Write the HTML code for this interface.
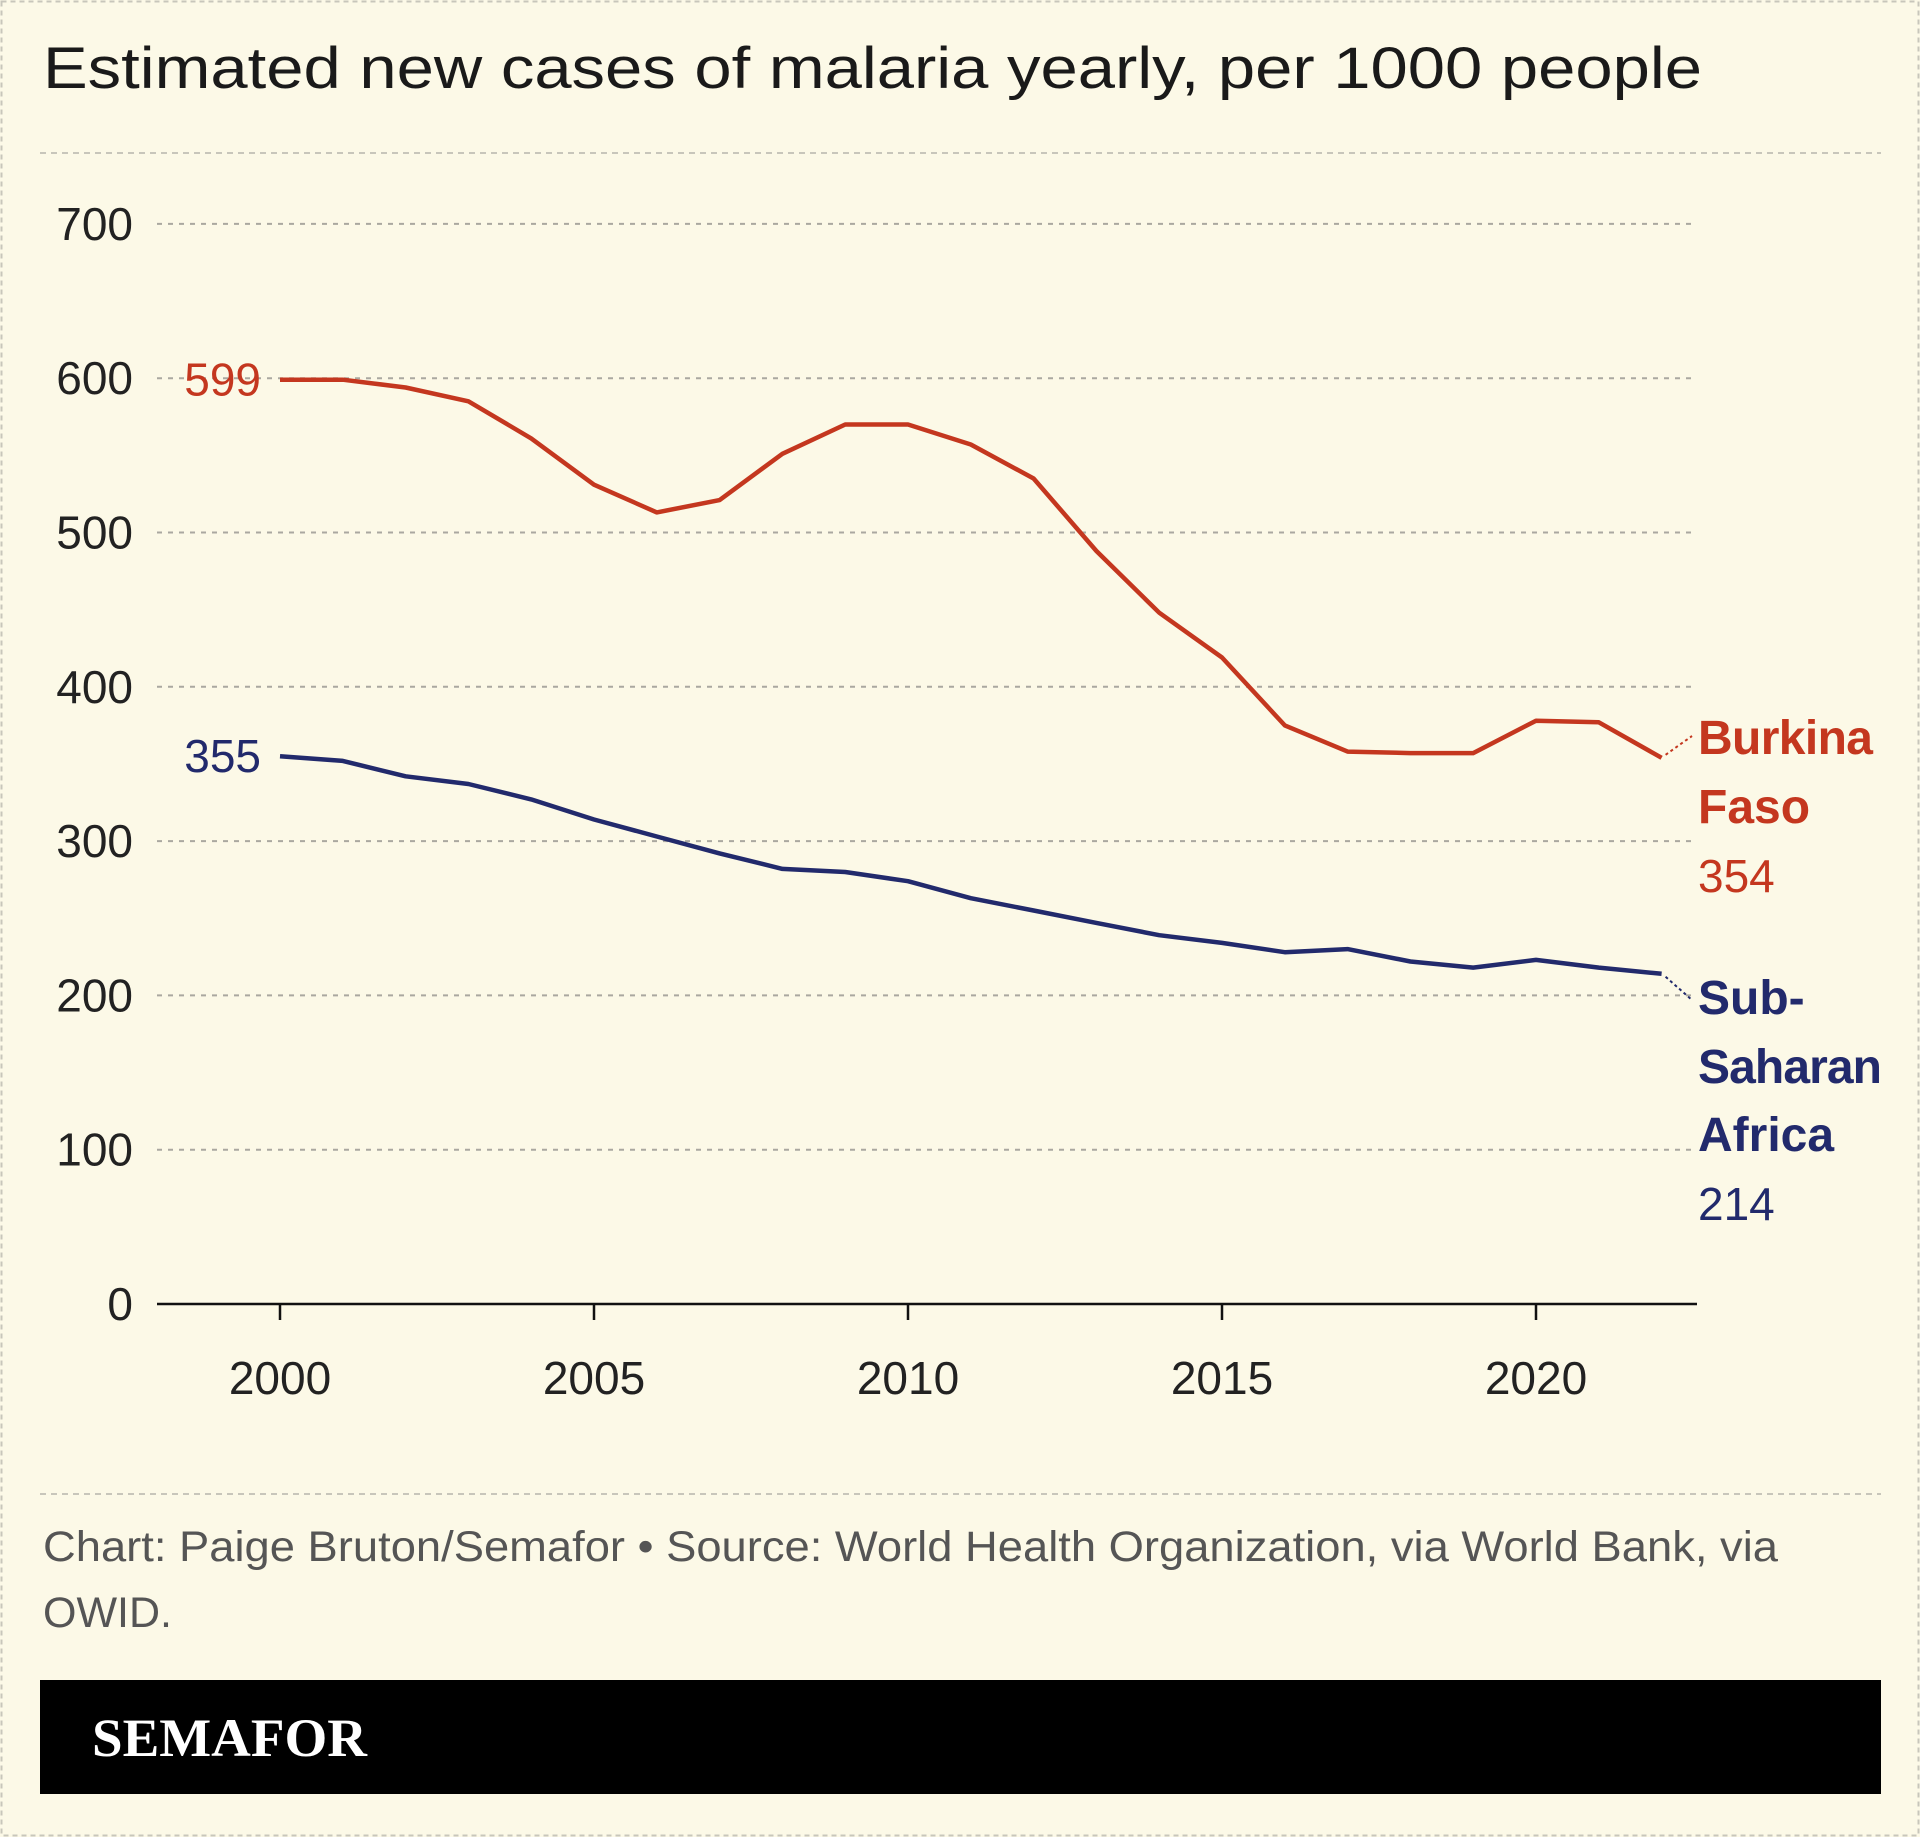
<!DOCTYPE html>
<html><head><meta charset="utf-8">
<style>
html,body{margin:0;padding:0;background:#fcf9e7;}
svg{display:block;}
text{font-family:"Liberation Sans",sans-serif;}
</style></head>
<body>
<svg id="chart" width="1920" height="1837" viewBox="0 0 1920 1837" xmlns="http://www.w3.org/2000/svg">
<rect x="1.5" y="1.5" width="1917" height="1834" fill="#fcf9e7" stroke="#c8c6bb" stroke-width="2" stroke-dasharray="5,4"/>
<text x="43" y="88" font-size="58" fill="#1a1a1a" textLength="1659" lengthAdjust="spacingAndGlyphs">Estimated new cases of malaria yearly, per 1000 people</text>
<line x1="40" y1="153" x2="1881" y2="153" stroke="#c8c6bb" stroke-width="2" stroke-dasharray="6,5"/>
<g id="grid"></g>
<g id="axes"></g>
<g id="series"></g>
<line x1="40" y1="1494" x2="1881" y2="1494" stroke="#c8c6bb" stroke-width="2" stroke-dasharray="6,5"/>
<text x="43" y="1561" font-size="43" fill="#555" textLength="1735" lengthAdjust="spacingAndGlyphs">Chart: Paige Bruton/Semafor • Source: World Health Organization, via World Bank, via</text>
<text x="43" y="1627" font-size="43" fill="#555">OWID.</text>
<rect x="40" y="1680" width="1841" height="114" fill="#000"/>
<text x="92" y="1756" font-size="54" font-weight="bold" fill="#fff" font-family="Liberation Serif, serif" style="font-family:'Liberation Serif',serif" textLength="275" lengthAdjust="spacingAndGlyphs">SEMAFOR</text>
</svg>
<script>
const years=[2000,2001,2002,2003,2004,2005,2006,2007,2008,2009,2010,2011,2012,2013,2014,2015,2016,2017,2018,2019,2020,2021,2022];
const burkina=[599,599,594,585,561,531,513,521,551,570,570,557,535,488,448,419,375,358,357,357,378,377,354];
const ssa=[355,352,342,337,327,314,303,292,282,280,274,263,255,247,239,234,228,230,222,218,223,218,214];
const yTicks=[0,100,200,300,400,500,600,700];
const xTicks=[2000,2005,2010,2015,2020];
const NS="http://www.w3.org/2000/svg";
const xs=y=>280+(y-2000)*62.8;
const ys=v=>1304-v*1.543;
function mk(tag,attrs,parent){const e=document.createElementNS(NS,tag);for(const k in attrs)e.setAttribute(k,attrs[k]);parent.appendChild(e);return e;}
const grid=document.getElementById('grid'),axes=document.getElementById('axes'),ser=document.getElementById('series');
yTicks.forEach(t=>{
  if(t>0){const l=mk('line',{x1:157,x2:1692,y1:ys(t),y2:ys(t),stroke:'#aaa8a0','stroke-width':2,'stroke-dasharray':'5,6'},grid);
  
  }
  const tx=mk('text',{x:133,y:ys(t)+16,'font-size':46,fill:'#222','text-anchor':'end'},axes);
  tx.textContent=t;
  
  
});
const ax=mk('line',{x1:157,x2:1697,y1:ys(0),y2:ys(0),stroke:'#111','stroke-width':2.5},axes);


xTicks.forEach(t=>{
  const tk=mk('line',{x1:xs(t),x2:xs(t),y1:ys(0),y2:ys(0)+16,stroke:'#111','stroke-width':2.5},axes);
  
  
  const tx=mk('text',{x:xs(t),y:1394,'font-size':46,fill:'#222','text-anchor':'middle'},axes);
  tx.textContent=t;
  
  
});
function line(vals,color,name){
  const d=vals.map((v,i)=>(i?'L':'M')+xs(years[i]).toFixed(1)+','+ys(v).toFixed(1)).join('');
  const p=mk('path',{d:d,fill:'none',stroke:color,'stroke-width':4.5,'stroke-linejoin':'round'},ser);
  
  
}
const RED='#c4371f',NAVY='#222a6c';
line(burkina,RED,'burkina-faso-line');
line(ssa,NAVY,'sub-saharan-africa-line');
function lbl(txt,x,y,color,bold,name,anchor){
  const t=mk('text',{x:x,y:y,'font-size':bold?48:46,fill:color,'font-weight':bold?'bold':'normal','text-anchor':anchor||'start'},ser);
  t.textContent=txt;
  
  
  return t;
}
lbl(burkina[0],261,ys(burkina[0])+16,RED,false,'burkina-start-value','end');
lbl(ssa[0],261,ys(ssa[0])+16,NAVY,false,'ssa-start-value','end');
const bl=burkina.length-1,sl=ssa.length-1;
const c1=mk('line',{x1:xs(years[bl])+4,y1:ys(burkina[bl])-3,x2:1692,y2:736,stroke:RED,'stroke-width':2,'stroke-dasharray':'3,3'},ser);


const c2=mk('line',{x1:xs(years[sl])+4,y1:ys(ssa[sl])+3,x2:1692,y2:1000,stroke:NAVY,'stroke-width':2,'stroke-dasharray':'3,3'},ser);


lbl('Burkina',1698,754,RED,true,'burkina-label-1').setAttribute('textLength','175');
lbl('Faso',1698,823,RED,true,'burkina-label-2');
lbl(burkina[bl],1698,892,RED,false,'burkina-end-value');
lbl('Sub-',1698,1014,NAVY,true,'ssa-label-1');
lbl('Saharan',1698,1083,NAVY,true,'ssa-label-2').setAttribute('textLength','184');
lbl('Africa',1698,1151,NAVY,true,'ssa-label-3');
lbl(ssa[sl],1698,1220,NAVY,false,'ssa-end-value');
</script>
</body></html>
